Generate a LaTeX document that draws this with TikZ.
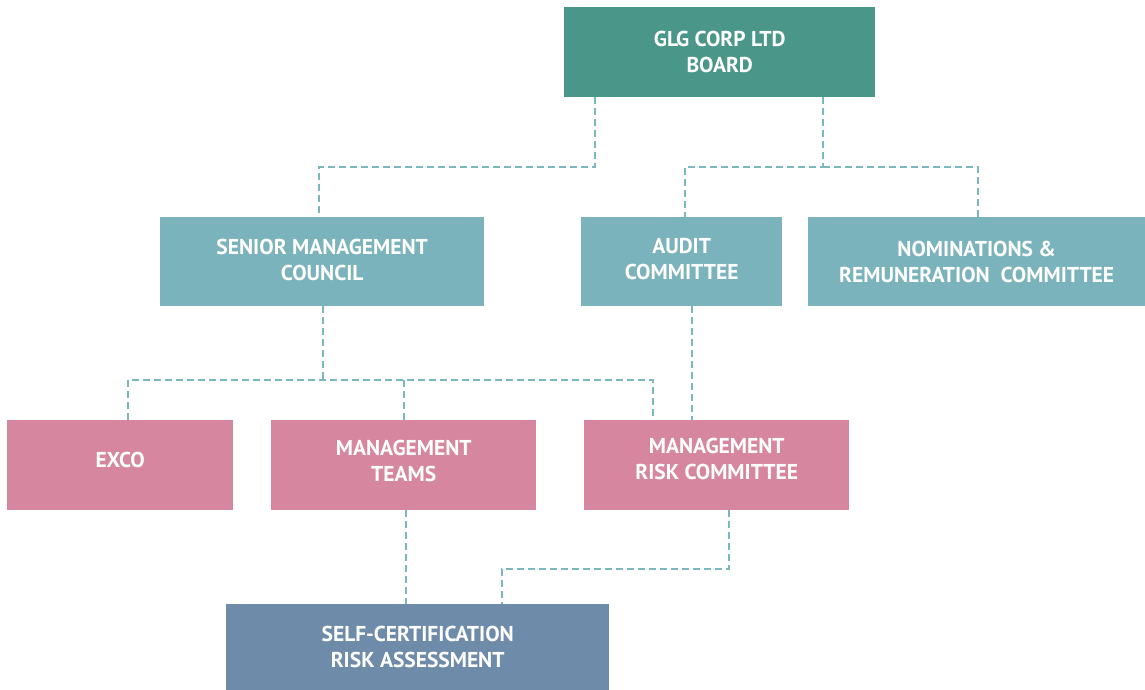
\documentclass[tikz,border=0pt]{standalone}
\usepackage{fontspec}
\setmainfont{PT Sans}
\begin{document}
\begin{tikzpicture}[x=1pt,y=-1pt,
  box/.style={rectangle,anchor=north west,inner sep=0pt,text=white,font=\bfseries\fontsize{21.5}{26}\selectfont,align=center},
  conn/.style={draw=lineC,line width=2pt,dash pattern=on 7pt off 4pt}]
\definecolor{boardC}{HTML}{4A9688}
\definecolor{tealC}{HTML}{7AB3BB}
\definecolor{pinkC}{HTML}{D6869E}
\definecolor{blueC}{HTML}{6E8BAA}
\definecolor{lineC}{HTML}{7AB8BE}
\useasboundingbox (0,0) rectangle (1145,690);
\node[box,fill=boardC,minimum width=311pt,minimum height=90pt] (board) at (564,7) {GLG CORP LTD\\BOARD};
\node[box,fill=tealC,minimum width=324pt,minimum height=89pt] (smc) at (160,217) {SENIOR MANAGEMENT\\COUNCIL\rule[-3pt]{0pt}{3pt}};
\node[box,fill=tealC,minimum width=201pt,minimum height=89pt] (audit) at (581,217) {AUDIT\\COMMITTEE\rule[-5pt]{0pt}{5pt}};
\node[box,fill=tealC,minimum width=337pt,minimum height=89pt] (nom) at (808,217) {NOMINATIONS \&\\REMUNERATION\ \ COMMITTEE};
\node[box,fill=pinkC,minimum width=226pt,minimum height=90pt] (exco) at (7,420) {EXCO\rule[-10pt]{0pt}{10pt}};
\node[box,fill=pinkC,minimum width=265pt,minimum height=90pt] (mt) at (271,420) {MANAGEMENT\\TEAMS\rule[-8pt]{0pt}{8pt}};
\node[box,fill=pinkC,minimum width=265pt,minimum height=90pt] (mrc) at (584,420) {MANAGEMENT\\RISK COMMITTEE\rule[-12pt]{0pt}{12pt}};
\node[box,fill=blueC,minimum width=383pt,minimum height=86pt] (sc) at (226,604) {SELF-CERTIFICATION\\RISK ASSESSMENT};
% connectors
\draw[conn] (595,97) -- (595,167) -- (319,167) -- (319,217);
\draw[conn] (823,97) -- (823,167) -- (685,167) -- (685,217);
\draw[conn] (823,167) -- (978,167) -- (978,217);
\draw[conn] (323,306) -- (323,380);
\draw[conn] (128,420) -- (128,380) -- (653,380) -- (653,420);
\draw[conn] (404,380) -- (404,420);
\draw[conn] (692,306) -- (692,420);
\draw[conn] (406,510) -- (406,604);
\draw[conn] (729,510) -- (729,569) -- (502,569) -- (502,604);
\end{tikzpicture}
\end{document}
